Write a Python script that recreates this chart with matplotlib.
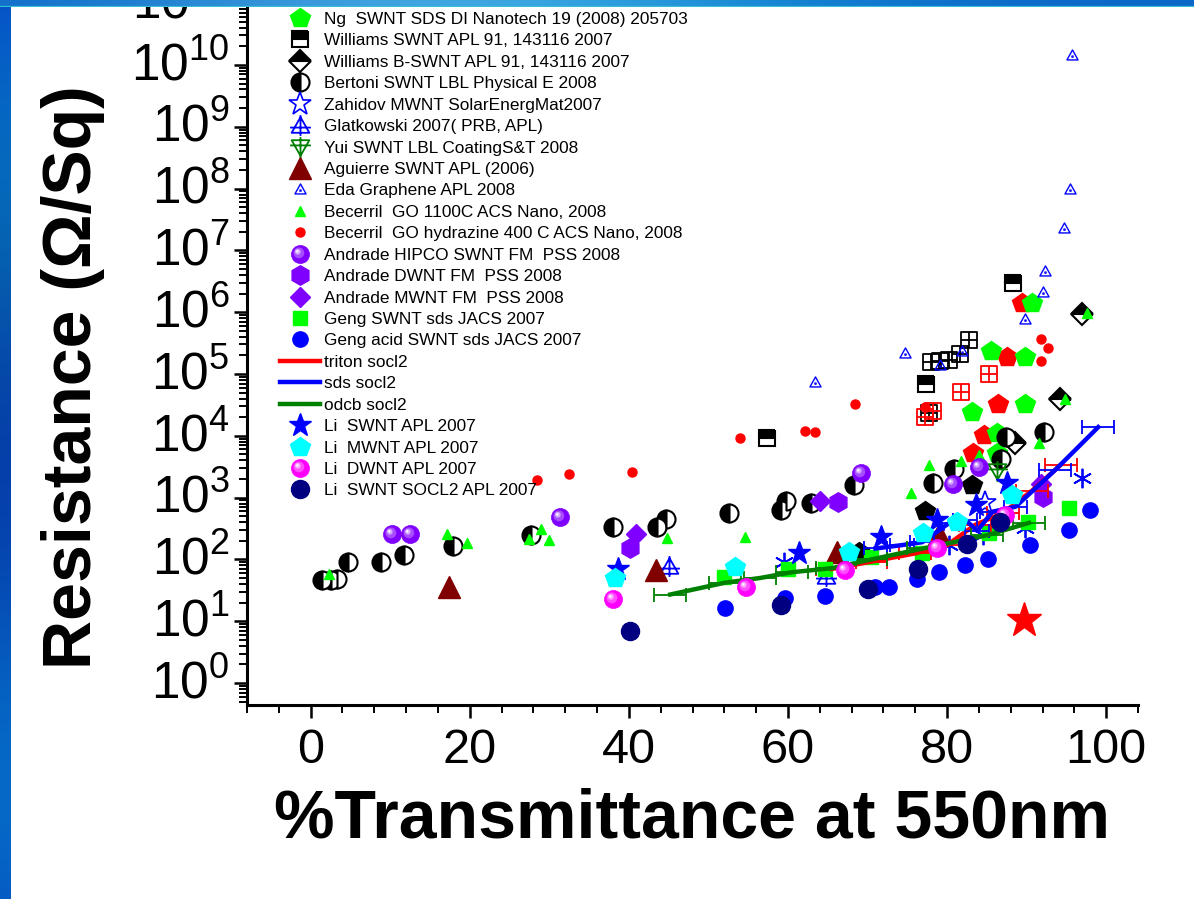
import numpy as np
import matplotlib
matplotlib.use("Agg")
from matplotlib import pyplot as plt
from matplotlib.path import Path
from matplotlib.legend_handler import HandlerTuple
from matplotlib.ticker import LogLocator, NullFormatter
from matplotlib import font_manager as fm
import matplotlib.transforms as mtransforms

# ---- data (x = %T at 550 nm, y = ohm/sq) ----
ng_x = [90.7, 85.5, 89.8, 83.1, 89.8, 86.3, 86.3]
ng_y = [1.4e6, 2.35e5, 1.9e5, 2.45e4, 3.3e4, 1.1e4, 5.3e3]

williams_x = [57.4, 77.4, 88.3]
williams_y = [9.2e3, 6.9e4, 2.95e6]

williams_b_x = [97.0, 94.2, 88.6]
williams_b_y = [9.3e5, 4.0e4, 7.6e3]

bertoni_x = [1.4, 2.6, 3.3, 4.7, 8.8, 11.7, 17.9, 27.7, 38.0, 43.5, 44.7,
             52.6, 59.1, 59.7, 62.9, 68.3, 78.2, 80.9, 86.8, 87.4, 92.2]
bertoni_y = [46, 46, 48, 91, 91, 118, 165, 247, 335, 335, 450,
             565, 630, 880, 815, 1590, 1730, 2900, 4200, 9500, 11500]

zahidov_x = [84.8]
zahidov_y = [815]

glatkowski_x = [45.0, 64.8]
glatkowski_y = [78, 54]

yui_x = [86.3]
yui_y = [2700]

aguierre_x = [17.4, 43.4, 66.2, 79.0]
aguierre_y = [36, 67, 132, 257]

eda_x = [95.7, 95.5, 94.7, 92.3, 92.1, 89.8, 81.9, 79.1, 74.7, 63.4]
eda_y = [1.45e10, 1.0e8, 2.3e7, 4.6e6, 2.1e6, 7.8e5, 2.35e5, 1.4e5, 2.2e5, 7.4e4]

becerril_go_x = [2.3, 17.2, 19.6, 27.5, 28.9, 29.9, 44.8, 54.6, 75.5, 77.7,
                 81.8, 84.0, 91.6, 94.8, 97.6]
becerril_go_y = [58, 257, 185, 215, 310, 205, 222, 230, 1180, 3400,
                 3900, 4900, 7600, 4.0e4, 9.7e5]

becerril_hz_x = [28.4, 32.5, 40.4, 54.0, 62.1, 63.4, 68.4, 77.2, 91.8, 92.7, 91.8]
becerril_hz_y = [1920, 2400, 2600, 9200, 1.2e4, 1.15e4, 3.28e4, 2.9e4, 3.7e5, 2.6e5, 1.6e5]

andrade_hipco_x = [10.2, 12.5, 31.3, 69.2, 80.8, 84.0]
andrade_hipco_y = [257, 257, 485, 2500, 1660, 3150]

andrade_dwnt_x = [40.1, 66.3, 92.0]
andrade_dwnt_y = [152, 850, 1020]

andrade_mwnt_x = [40.9, 64.0, 91.8]
andrade_mwnt_y = [257, 880, 1660]

geng_x = [52.0, 60.0, 64.7, 70.4, 76.9, 85.3, 90.2, 95.3]
geng_y = [52, 70, 70, 110, 127, 268, 405, 680]

geng_acid_x = [52.1, 59.6, 64.7, 70.9, 72.7, 76.2, 79.0, 82.3, 85.2, 90.4, 95.3, 98.0]
geng_acid_y = [16.4, 24, 25.6, 36, 36, 48, 63, 81, 102, 172, 300, 630]

triton_x = [65.5, 70.5, 76.0, 80.0, 83.5, 87.0, 90.7, 94.3]
triton_y = [70, 92, 125, 170, 360, 560, 1300, 3400]
triton_err = [2, 2, 2, 2, 2, 2, 2, 2]

sds_x = [71.0, 74.3, 76.9, 80.3, 82.3, 83.8, 85.7, 88.6, 93.6, 99.0]
sds_y = [150, 170, 190, 390, 435, 290, 590, 710, 2800, 13800]
sds_err = [1.5, 1.5, 1.5, 1.5, 1.5, 1.5, 1.5, 1.5, 2, 2]

odcb_x = [45.2, 52.1, 56.5, 60.5, 65.5, 70.5, 77.0, 85.0, 90.3]
odcb_y = [27, 42, 50, 62, 72, 100, 150, 245, 390]
odcb_err = [2, 2, 2, 2, 2, 2, 2, 2, 2]

li_swnt_x = [38.6, 61.4, 71.7, 78.7, 83.6, 87.5]
li_swnt_y = [70, 127, 230, 435, 760, 1730]

li_mwnt_x = [38.2, 53.3, 67.7, 77.0, 81.3, 88.1]
li_mwnt_y = [50, 75, 132, 268, 405, 1100]

li_dwnt_x = [38.0, 54.7, 67.2, 78.7, 87.3]
li_dwnt_y = [23, 36, 67, 152, 525]

li_socl2_x = [40.1, 59.1, 70.1, 76.4, 82.5, 86.7]
li_socl2_y = [6.9, 18.3, 33, 70, 178, 405]

# series without a visible legend entry
black_pent_x = [83.1, 77.2, 68.9]
black_pent_y = [1600, 610, 132]
red_pent_x = [89.4, 87.5, 86.4, 84.7, 83.3]
red_pent_y = [1.4e6, 1.9e5, 3.3e4, 1.03e4, 5.3e3]
black_grid_x = [82.8, 81.6, 80.3, 79.1, 78.0, 77.7]
black_grid_y = [3.5e5, 2.1e5, 1.7e5, 1.6e5, 1.56e5, 2.35e4]
red_grid_x = [85.3, 81.8, 78.2, 77.2]
red_grid_y = [1.0e5, 5.1e4, 2.5e4, 2.0e4]
red_star_x = [89.7]
red_star_y = [10.5]
asterisk_x = [59.5, 80.3, 84.5, 89.8, 97.0]
asterisk_y = [91, 170, 248, 322, 2090]

labels = [
    "Ng  SWNT SDS DI Nanotech 19 (2008) 205703",
    "Williams SWNT APL 91, 143116 2007",
    "Williams B-SWNT APL 91, 143116 2007",
    "Bertoni SWNT LBL Physical E 2008",
    "Zahidov MWNT SolarEnergMat2007",
    "Glatkowski 2007( PRB, APL)",
    "Yui SWNT LBL CoatingS&T 2008",
    "Aguierre SWNT APL (2006)",
    "Eda Graphene APL 2008",
    "Becerril  GO 1100C ACS Nano, 2008",
    "Becerril  GO hydrazine 400 C ACS Nano, 2008",
    "Andrade HIPCO SWNT FM  PSS 2008",
    "Andrade DWNT FM  PSS 2008",
    "Andrade MWNT FM  PSS 2008",
    "Geng SWNT sds JACS 2007",
    "Geng acid SWNT sds JACS 2007",
    "triton socl2",
    "sds socl2",
    "odcb socl2",
    "Li  SWNT APL 2007",
    "Li  MWNT APL 2007",
    "Li  DWNT APL 2007",
    "Li  SWNT SOCL2 APL 2007",
]

W, H = 1194, 899
names = {f.name for f in fm.fontManager.ttflist}
narrow = "Liberation Sans Narrow" in names

plt.rcParams["font.family"] = ["Liberation Sans", "DejaVu Sans"]
plt.rcParams["mathtext.fontset"] = "custom"
plt.rcParams["mathtext.rm"] = "Liberation Sans"
plt.rcParams["mathtext.it"] = "Liberation Sans:italic"
plt.rcParams["mathtext.bf"] = "Liberation Sans:bold"


# ---- custom Origin-like markers ----
def grid_square():
    v = [(-1, -1), (1, -1), (1, 1), (-1, 1), (-1, -1),
         (0, -1), (0, 1), (-1, 0), (1, 0)]
    c = [Path.MOVETO, Path.LINETO, Path.LINETO, Path.LINETO, Path.CLOSEPOLY,
         Path.MOVETO, Path.LINETO, Path.MOVETO, Path.LINETO]
    return Path(v, c)


def cross_triangle(up=True):
    s = 1 if up else -1
    v = [(-0.85, -0.7 * s), (0.85, -0.7 * s), (0, 0.8 * s), (-0.85, -0.7 * s),
         (0, 1.0), (0, -1.0), (-1, -0.2 * s), (1, -0.2 * s)]
    c = [Path.MOVETO, Path.LINETO, Path.LINETO, Path.CLOSEPOLY,
         Path.MOVETO, Path.LINETO, Path.MOVETO, Path.LINETO]
    return Path(v, c)


def dot_triangle():
    v = [(-1, -0.8), (1, -0.8), (0, 1), (-1, -0.8),
         (-0.1, -0.3), (0.1, -0.3), (0.1, -0.1), (-0.1, -0.1), (-0.1, -0.3)]
    c = [Path.MOVETO, Path.LINETO, Path.LINETO, Path.CLOSEPOLY,
         Path.MOVETO, Path.LINETO, Path.LINETO, Path.LINETO, Path.CLOSEPOLY]
    return Path(v, c)


def offset_circle(r, cx, cy):
    circ = Path.circle((cx, cy), r)
    v = np.vstack([[[1.0, 1.0]], circ.vertices])
    c = np.concatenate([[Path.MOVETO], circ.codes])
    return Path(v, c)


def mix(c, t):
    c = np.array(matplotlib.colors.to_rgb(c))
    return tuple(c + (1 - c) * t)


fig = plt.figure(figsize=(W / 100, H / 100), dpi=100)

ax = fig.add_axes([247 / W, 1 - 705 / H, (1138 - 247) / W, 705 / H])
ax.set_yscale("log")

# slide frame (blue gradient strips at left and top), above the axes
bl = fig.add_axes([0, 0, 11 / W, 1], zorder=5)
g = np.linspace(0, 1, 200)[:, None]
left_col = np.dstack([0.02 + 0.0 * g, 0.33 + 0.08 * np.sin(g * 9), 0.72 + 0.06 * np.cos(g * 7)])
bl.imshow(left_col, aspect="auto", extent=(0, 1, 0, 1))
bl.axis("off")
bt = fig.add_axes([0, 1 - 7 / H, 1, 7 / H], zorder=5)
gx = np.linspace(0, 1, 400)[None, :]
top_col = np.dstack([0.05 + 0.2 * np.exp(-((gx - 0.35) / 0.25) ** 2) + 0 * gx,
                     0.4 + 0.25 * np.exp(-((gx - 0.4) / 0.3) ** 2),
                     0.78 + 0.1 * np.exp(-((gx - 0.4) / 0.3) ** 2)])
top_col = np.clip(np.repeat(top_col, 6, axis=0), 0, 1)
top_col[-1, :, :] = (0.2, 0.75, 0.85)
bt.imshow(top_col, aspect="auto", extent=(0, 1, 0, 1))
bt.axis("off")


def pts(x, y, **kw):
    base = dict(ls="none")
    base.update(kw)
    return ax.plot(x, y, **base)[0]


def sphere(x, y, color, ms):
    h = [pts(x, y, marker="o", ms=ms, mfc=color, mec=color, mew=0.5)]
    for r, cx, t in [(0.6, -0.18, 0.3), (0.32, -0.3, 0.65), (0.13, -0.35, 1.0)]:
        h.append(pts(x, y, marker=offset_circle(r, cx, -cx), ms=ms,
                     mfc=mix(color, t), mew=0))
    return tuple(h)


# unlabeled series first (drawn underneath)
pts(black_grid_x, black_grid_y, marker=grid_square(), ms=11.5, mfc="none", mec="black", mew=1.3)
pts(red_grid_x, red_grid_y, marker=grid_square(), ms=11.5, mfc="none", mec="red", mew=1.3)
pts(red_pent_x, red_pent_y, marker="p", ms=15, mfc="red", mec="red")
pts(black_pent_x, black_pent_y, marker="p", ms=15, mfc="black", mec="black")
pts(red_star_x, red_star_y, marker="*", ms=26, mfc="red", mec="red")
pts(asterisk_x, asterisk_y, marker=(6, 2, 0), ms=14, mec="blue", mew=1.3)

h = []
h.append(pts(ng_x, ng_y, marker="p", ms=15, mfc="#00ff00", mec="#00ff00"))
h.append(pts(williams_x, williams_y, marker="s", ms=11.5, fillstyle="top",
             mfc="black", mfcalt="white", mec="black", mew=1.5))
h.append(pts(williams_b_x, williams_b_y, marker="D", ms=11, fillstyle="top",
             mfc="black", mfcalt="white", mec="black", mew=1.5))
h.append(pts(bertoni_x, bertoni_y, marker="o", ms=13, fillstyle="left",
             mfc="black", mfcalt="white", mec="black", mew=1.5))
h.append(pts(zahidov_x, zahidov_y, marker="*", ms=17, mfc="none", mec="blue", mew=1.2))
h.append(pts(glatkowski_x, glatkowski_y, marker=cross_triangle(True), ms=15,
             mfc="none", mec="blue", mew=1.3))
h.append(pts(yui_x, yui_y, marker=cross_triangle(False), ms=15,
             mfc="none", mec="green", mew=1.3))
h.append(pts(aguierre_x, aguierre_y, marker="^", ms=16, mfc="#800000", mec="#800000"))
h.append(pts(eda_x, eda_y, marker=dot_triangle(), ms=8, mfc="none", mec="blue", mew=1.0))
h.append(pts(becerril_go_x, becerril_go_y, marker="^", ms=7.5, mfc="#00ff00", mec="#00ff00"))
h.append(pts(becerril_hz_x, becerril_hz_y, marker="o", ms=6.5, mfc="red", mec="red"))
h.append(sphere(andrade_hipco_x, andrade_hipco_y, "#8000ff", 13))
h.append(pts(andrade_dwnt_x, andrade_dwnt_y, marker="h", ms=14, mfc="#8000ff", mec="#8000ff"))
h.append(pts(andrade_mwnt_x, andrade_mwnt_y, marker="D", ms=10.5, mfc="#8000ff", mec="#8000ff"))
h.append(pts(geng_x, geng_y, marker="s", ms=9.5, mfc="#00ff00", mec="#00ff00"))
h.append(pts(geng_acid_x, geng_acid_y, marker="o", ms=11, mfc="blue", mec="blue"))

for x, y, e, c in [(triton_x, triton_y, triton_err, "red"),
                   (sds_x, sds_y, sds_err, "blue"),
                   (odcb_x, odcb_y, odcb_err, "green")]:
    ax.errorbar(x, y, xerr=e, fmt="none", ecolor=c, elinewidth=1.3,
                capsize=4.7, capthick=1.3)
    h.append(ax.plot(x, y, color=c, lw=3.2)[0])

h.append(pts(li_swnt_x, li_swnt_y, marker="*", ms=17, mfc="blue", mec="blue"))
h.append(pts(li_mwnt_x, li_mwnt_y, marker="p", ms=15, mfc="cyan", mec="cyan"))
h.append(sphere(li_dwnt_x, li_dwnt_y, "#ff00ff", 13))
h.append(pts(li_socl2_x, li_socl2_y, marker="o", ms=13, mfc="#000080", mec="#000080"))

# ---- axes ----
ax.set_xlim(-8, 104)
ax.set_ylim(10 ** -0.356, 10 ** 11.05)
ax.spines[["top", "right"]].set_visible(False)
for s in ["left", "bottom"]:
    ax.spines[s].set_linewidth(2.2)

ax.set_xticks([0, 20, 40, 60, 80, 100])
ax.set_xticks(np.arange(-8, 105, 4), minor=True)
ax.set_yticks([10.0 ** k for k in range(0, 12)])
ax.set_yticklabels([f"$10^{{{k}}}$" for k in range(0, 12)])
ax.yaxis.set_minor_locator(LogLocator(base=10, subs=np.arange(2, 10), numticks=30))
ax.yaxis.set_minor_formatter(NullFormatter())
ax.tick_params(which="major", direction="out", length=9.5, width=1.8, color="black")
ax.tick_params(which="minor", direction="out", length=5.5, width=1.4)
ax.tick_params(axis="y", which="major", labelsize=37, pad=3)
ax.tick_params(axis="x", which="major", labelsize=35, pad=7)

shift = mtransforms.ScaledTranslation(0, 3 / 72, fig.dpi_scale_trans)
for lab in ax.get_yticklabels():
    lab.set_transform(lab.get_transform() + shift)

bold_family = ["Liberation Sans Narrow", "Liberation Sans"] if narrow else ["Liberation Sans"]
fig.text(73 / W, 1 - 377 / H, "Resistance (\u03a9/Sq)", rotation=90, ha="center", va="center",
         fontsize=57 if narrow else 49, fontweight="bold", family=bold_family)
fig.text(692 / W, 1 - 820 / H, "%Transmittance at 550nm", ha="center", va="center",
         fontsize=57 if narrow else 49, fontweight="bold", family=bold_family)

ax.legend(h, labels, loc="upper left", bbox_to_anchor=(280 / W, 1 - 12 / H),
          bbox_transform=fig.transFigure, frameon=False, fontsize=12.4,
          handlelength=2.3, handletextpad=0.25, labelspacing=0.37,
          borderpad=0, borderaxespad=0,
          handler_map={tuple: HandlerTuple(ndivide=1, pad=0)})

fig.savefig("out.png", dpi=100)
